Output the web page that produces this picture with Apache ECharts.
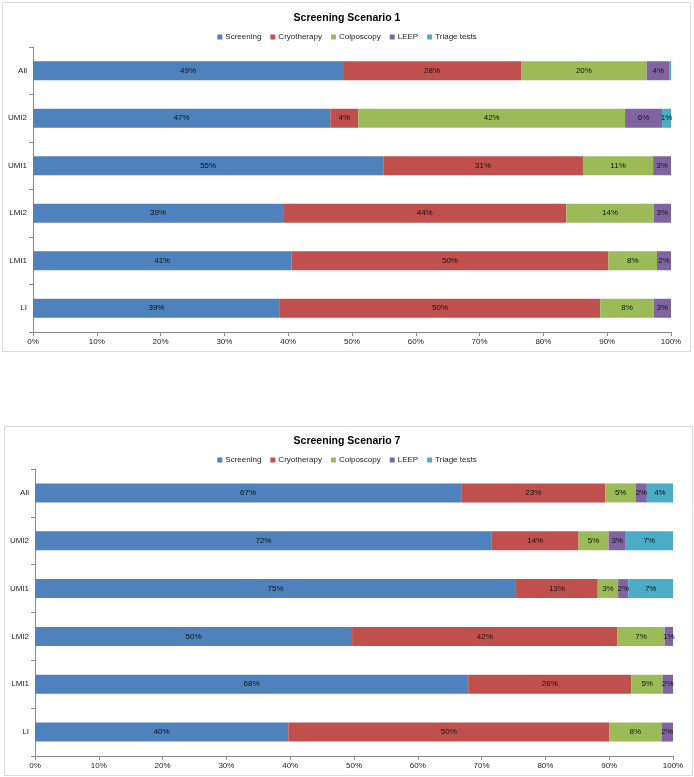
<!DOCTYPE html>
<html><head><meta charset="utf-8">
<script src="https://cdn.jsdelivr.net/npm/echarts@6/dist/echarts.min.js"></script>
<style>html,body{margin:0;padding:0;background:#fff}#c{width:694px;height:777px}</style>
</head><body><div id="c"></div>
<script>
const categories = ['LI','LMI1','LMI2','UMI1','UMI2','All'];
const seriesNames = ['Screening','Cryotherapy','Colposcopy','LEEP','Triage tests'];
const xTicks = [0,10,20,30,40,50,60,70,80,90,100];
const titles = ['Screening Scenario 1','Screening Scenario 7'];

// Scenario 1 (% of total)
const s1Screening = [38.7,40.5,39.2,54.9,46.6,48.6];
const s1Cryotherapy = [50.2,49.7,44.4,31.3,4.4,27.9];
const s1Colposcopy = [8.4,7.6,13.7,11.0,41.8,19.7];
const s1LEEP = [2.7,2.2,2.7,2.8,5.8,3.6];
const s1Triage = [0,0,0,0,1.4,0.2];

// Scenario 7 (% of total)
const s7Screening = [39.7,67.9,49.7,75.4,71.6,66.8];
const s7Cryotherapy = [50.3,25.6,41.6,12.8,13.6,22.6];
const s7Colposcopy = [8.2,4.9,7.4,3.2,4.7,4.8];
const s7LEEP = [1.8,1.6,1.3,1.6,2.7,1.7];
const s7Triage = [0,0,0,7.0,7.4,4.1];

const colors = ['#4F81BD','#C0504D','#9BBB59','#8064A2','#4BACC6'];
const FONT = '"Liberation Sans",Arial,sans-serif';
const AXIS = '#8c8c8c';

const scen = [
  [s1Screening,s1Cryotherapy,s1Colposcopy,s1LEEP,s1Triage],
  [s7Screening,s7Cryotherapy,s7Colposcopy,s7LEEP,s7Triage]
];
const grids = [
  {left:33, right:23, top:47, height:285},
  {left:35, right:21, top:469, height:287}
];
const titleTops = [8, 431];
const legendTops = [28, 451];

const chart = echarts.init(document.getElementById('c'), null, {renderer:'canvas'});
const series = [];
scen.forEach((arrs, gi) => {
  arrs.forEach((d, si) => {
    series.push({
      name: seriesNames[si], type:'bar', stack:'s'+gi,
      xAxisIndex: gi, yAxisIndex: gi,
      data: d, barWidth: 19,
      itemStyle:{color: colors[si]},
      label:{show:true, position:'inside', color:'#111', fontSize:8, fontFamily:FONT,
        formatter: p => p.value < 0.5 ? '' : Math.round(p.value) + '%'},
      emphasis:{disabled:true}
    });
  });
});

chart.setOption({
  animation:false,
  color: colors,
  title: titles.map((t,i)=>({text:t, left:'center', top:titleTops[i],
    textStyle:{fontFamily:FONT, fontSize:10.5, fontWeight:'bold', color:'#000'}})),
  legend: legendTops.map(t=>({top:t, left:'center', itemWidth:5, itemHeight:5, itemGap:9,
    icon:'rect', data: seriesNames, selectedMode:false,
    textStyle:{fontFamily:FONT, fontSize:8, color:'#222', padding:[0,0,0,-2]}})),
  grid: grids,
  xAxis: grids.map((g,i)=>({type:'value', gridIndex:i, min:xTicks[0], max:xTicks[xTicks.length-1], interval:10,
    splitLine:{show:false},
    axisLine:{show:true, lineStyle:{color:AXIS}},
    axisTick:{show:true, length:4, lineStyle:{color:AXIS}},
    axisLabel:{formatter:'{value}%', fontFamily:FONT, fontSize:8, color:'#222', margin:6}})),
  yAxis: grids.map((g,i)=>({type:'category', gridIndex:i, data:categories,
    axisLine:{show:true, lineStyle:{color:AXIS}},
    axisTick:{show:true, length:4, lineStyle:{color:AXIS}},
    axisLabel:{fontFamily:FONT, fontSize:8, color:'#222', margin:6}})),
  graphic: [
    {type:'rect', shape:{x:2.5, y:2.5, width:688, height:349}, style:{fill:'none', stroke:'#d9d9d9', lineWidth:1}, silent:true, z:-1},
    {type:'rect', shape:{x:4.5, y:426.5, width:688, height:349}, style:{fill:'none', stroke:'#d9d9d9', lineWidth:1}, silent:true, z:-1}
  ],
  series: series
});
</script></body></html>
